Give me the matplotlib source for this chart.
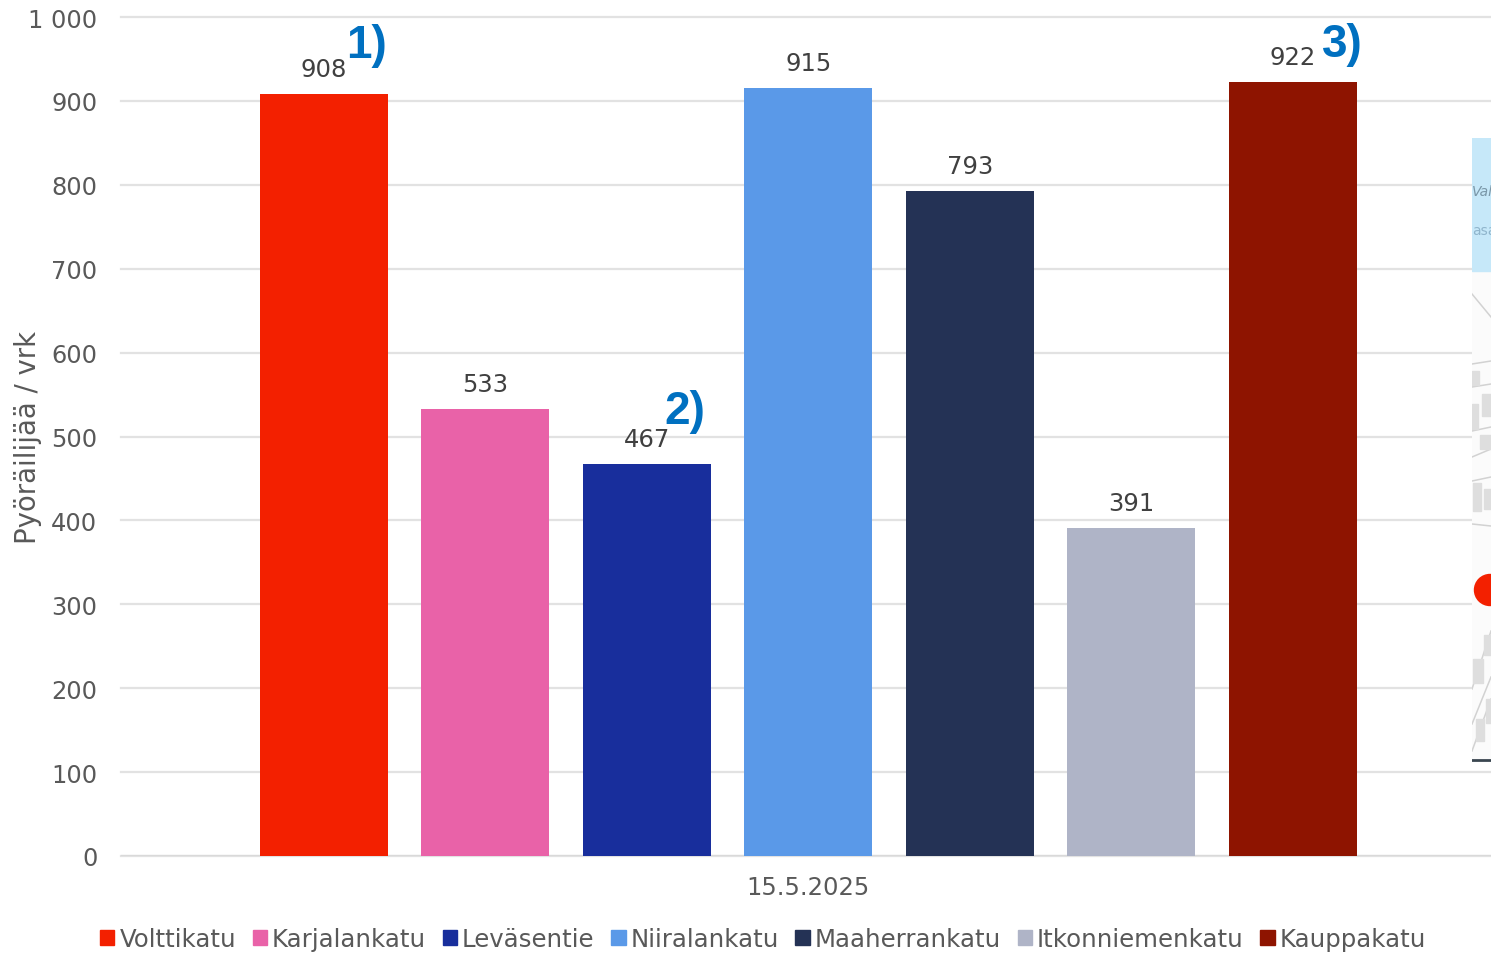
import matplotlib
matplotlib.use("Agg")
import matplotlib.pyplot as plt
from matplotlib.patches import Rectangle, Circle, Patch

streets = ["Volttikatu", "Karjalankatu", "Leväsentie", "Niiralankatu", "Maaherrankatu", "Itkonniemenkatu", "Kauppakatu"]
values = [908, 533, 467, 915, 793, 391, 922]
colors = ["#F32000", "#E962A8", "#182E9C", "#5A99E8", "#243255", "#AFB4C7", "#8E1400"]
note_bars = [0, 2, 6]
note_texts = ["1)", "2)", "3)"]
yticks = [0, 100, 200, 300, 400, 500, 600, 700, 800, 900, 1000]
ylabels = ["0", "100", "200", "300", "400", "500", "600", "700", "800", "900", "1 000"]
date_label = "15.5.2025"

W, H = 1491, 954
plt.rcParams["font.family"] = ["DejaVu Sans"]
GRAY = "#595959"
fig = plt.figure(figsize=(W / 100, H / 100), dpi=100, facecolor="white")
L, R, T, B = 121, 1491, 18, 857
ax = fig.add_axes([L / W, 1 - B / H, (R - L) / W, (B - T) / H])
ax.set_ylim(0, 1000)
step = 161.55
ax.set_xlim((L - 323.6) / step, (R - 323.6) / step)
ax.bar(range(len(values)), values, width=128 / step, color=colors, zorder=3)
ax.set_yticks(yticks, ylabels)
ax.tick_params(axis="y", length=0, pad=17, labelsize=17.4, labelcolor=GRAY)
for lab in ax.get_yticklabels():
    lab.set_y(lab.get_position()[1])
ax.set_xticks([(808 - 323.6) / step], [date_label])
ax.tick_params(axis="x", length=0, pad=14, labelsize=17.5, labelcolor=GRAY)
ax.grid(axis="y", color="#E2E2E2", lw=1.6, zorder=0, clip_on=False)
ax.set_axisbelow(True)
for s in ax.spines.values():
    s.set_visible(False)
ax.axhline(0, color="#D9D9D9", lw=1.6, zorder=1)
ax.set_ylabel("Pyöräilijää / vrk", fontsize=19.8, color=GRAY, va="center")
ax.yaxis.set_label_coords((28 - L) / (R - L), 0.5)

for i, v in enumerate(values):
    ax.annotate(str(v), (i, v), xytext=(0, 13), textcoords="offset pixels",
                ha="center", va="bottom", fontsize=17.5, color="#404040", zorder=5)
note_dx = [43, 38, 49]
note_dy = [49, 53, 38]
for i, txt, dx, dy in zip(note_bars, note_texts, note_dx, note_dy):
    ax.annotate(txt, (i, values[i]), xytext=(dx, dy), textcoords="offset pixels", ha="center", va="center",
                fontsize=33, fontweight="bold", color="#0070C0", family=["Liberation Sans"], zorder=6)

# legend
handles = [Patch(color=c, label=s) for c, s in zip(colors, streets)]
fig.legend(handles=handles, loc="center", bbox_to_anchor=(763 / W, 1 - 940 / H), ncol=7, frameon=False,
           fontsize=17.6, labelcolor=GRAY, handlelength=0.59, handleheight=0.59, handletextpad=0.2,
           columnspacing=0.68, borderpad=0)

# map fragment pasted on the right edge
mx = fig.add_axes([1472 / W, 1 - 763 / H, 19 / W, 624 / H])
mx.set_xlim(1472, 1491)
mx.set_ylim(763, 139)
mx.axis("off")
mx.add_patch(Rectangle((1472, 139), 19, 624, color="#FBFBFB", zorder=0))
mx.add_patch(Rectangle((1472, 139), 19, 133, color="#C6E8F9", zorder=1))
street_lines = [
    ((1472, 1491), (295, 318)), ((1472, 1491), (365, 362)), ((1472, 1491), (388, 385)),
    ((1472, 1491), (432, 428)), ((1472, 1491), (458, 450)), ((1472, 1491), (482, 478)),
    ((1472, 1491), (525, 527)), ((1472, 1491), (690, 632)), ((1472, 1491), (752, 700)),
    ((1472, 1491), (725, 678)),
]
for xs, ys in street_lines:
    mx.plot(xs, ys, color="#D2D2D2", lw=1.1, zorder=2)
for (x0, y0, w, h) in [(1472, 372, 7, 14), (1482, 395, 9, 22), (1472, 405, 6, 25), (1480, 436, 11, 14),
                       (1473, 484, 8, 28), (1484, 490, 7, 20), (1473, 660, 10, 24), (1484, 636, 7, 20),
                       (1476, 720, 8, 22), (1486, 700, 5, 24)]:
    mx.add_patch(Rectangle((x0, y0), w, h, color="#DEDEDE", zorder=2))
mx.plot((1472, 1491), (761, 761), color="#3A4650", lw=2, zorder=3)
mx.text(1472, 192, "Vala", fontsize=10, style="italic", color="#7A97A8", va="center", zorder=3, clip_on=True)
mx.text(1472, 231, "asa", fontsize=10, color="#8FB5CC", va="center", zorder=3, clip_on=True)
mx.add_patch(Circle((1490, 591), 15.5, color="#F32000", zorder=4))

fig.savefig("out.png", dpi=100, facecolor="white")
